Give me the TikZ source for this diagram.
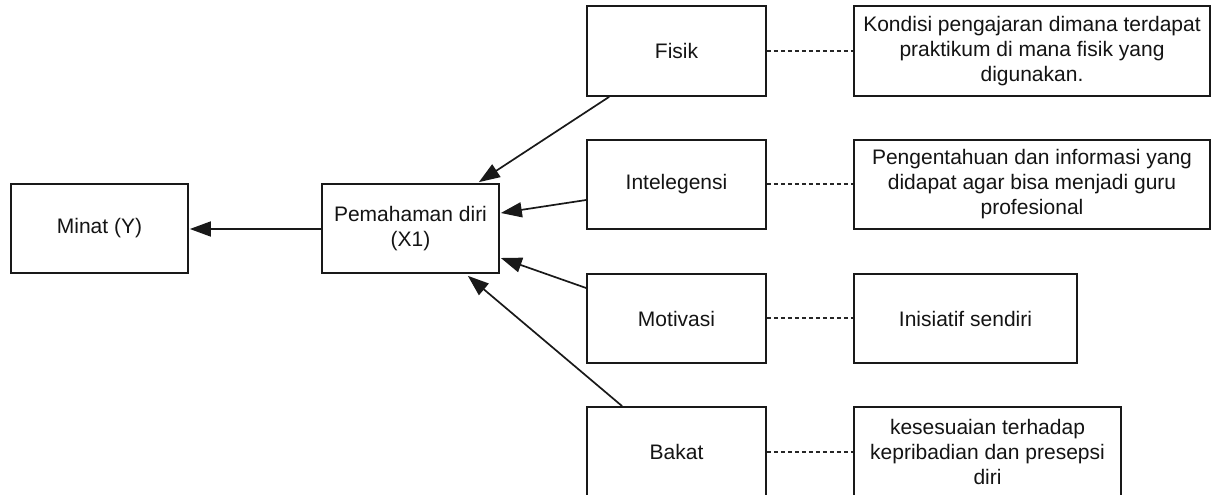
\documentclass[tikz,border=0pt]{standalone}
\usepackage{fontspec}
\setmainfont{Liberation Sans}
\usetikzlibrary{arrows.meta}
\begin{document}
\begin{tikzpicture}[x=1pt,y=-1pt,
  box/.style={draw=black!90, line width=1.7pt, fill=white, inner sep=0pt,
    align=center, font=\fontsize{21}{25}\selectfont, text=black!92},
  link/.style={line width=1.7pt, draw=black!90,
    -{Triangle[length=21pt,width=15pt]}},
  note/.style={line width=1.6pt, draw=black!85, dash pattern=on 4pt off 3pt}]
\useasboundingbox (0,0) rectangle (1219,495);

% left column
\node[box, minimum width=177pt, minimum height=89pt] (minat) at (99.5,228.5) {Minat (Y)};
\node[box, minimum width=177pt, minimum height=89pt] (pem) at (410.5,228.5) {Pemahaman diri\\(X1)};

% factors
\node[box, minimum width=179pt, minimum height=90pt] (fisik) at (676.5,51) {Fisik};
\node[box, minimum width=179pt, minimum height=89pt] (intel) at (676.5,184.5) {Intelegensi};
\node[box, minimum width=179pt, minimum height=89pt] (motiv) at (676.5,318.5) {Motivasi};
\node[box, minimum width=179pt, minimum height=90pt] (bakat) at (676.5,452) {Bakat};

% descriptions
\node[box, minimum width=356pt, minimum height=90pt] (dfisik) at (1032,51)
  {Kondisi pengajaran dimana terdapat\\praktikum di mana fisik yang\\digunakan.};
\node[box, minimum width=356pt, minimum height=89pt] (dintel) at (1032,184.5)
  {Pengentahuan dan informasi yang\\didapat agar bisa menjadi guru\\profesional};
\node[box, minimum width=223pt, minimum height=89pt] (dmotiv) at (965.5,318.5)
  {Inisiatif sendiri};
\node[box, minimum width=267pt, minimum height=90pt] (dbakat) at (987.5,452)
  {kesesuaian terhadap\\kepribadian dan presepsi\\diri};

% influence arrows
\draw[link] ([yshift=-0.5pt]pem.west) -- ([xshift=1pt,yshift=-0.5pt]minat.east);
\draw[link] ([xshift=23pt]fisik.south west) -- ([xshift=-21pt,yshift=1pt]pem.north east);
\draw[link] ([yshift=-15.5pt]intel.west) -- ([xshift=1pt,yshift=15.5pt]pem.east);
\draw[link] ([yshift=30.5pt]motiv.west) -- ([xshift=1pt,yshift=-29.5pt]pem.east);
\draw[link] ([xshift=36pt]bakat.north west) -- ([xshift=-32pt,yshift=-2pt]pem.south east);

% dotted links to descriptions
\draw[note] (fisik.east) -- (dfisik.west);
\draw[note] ([yshift=0.5pt]intel.east) -- ([yshift=0.5pt]dintel.west);
\draw[note] ([yshift=0.5pt]motiv.east) -- ([yshift=0.5pt]dmotiv.west);
\draw[note] (bakat.east) -- (dbakat.west);
\end{tikzpicture}
\end{document}
